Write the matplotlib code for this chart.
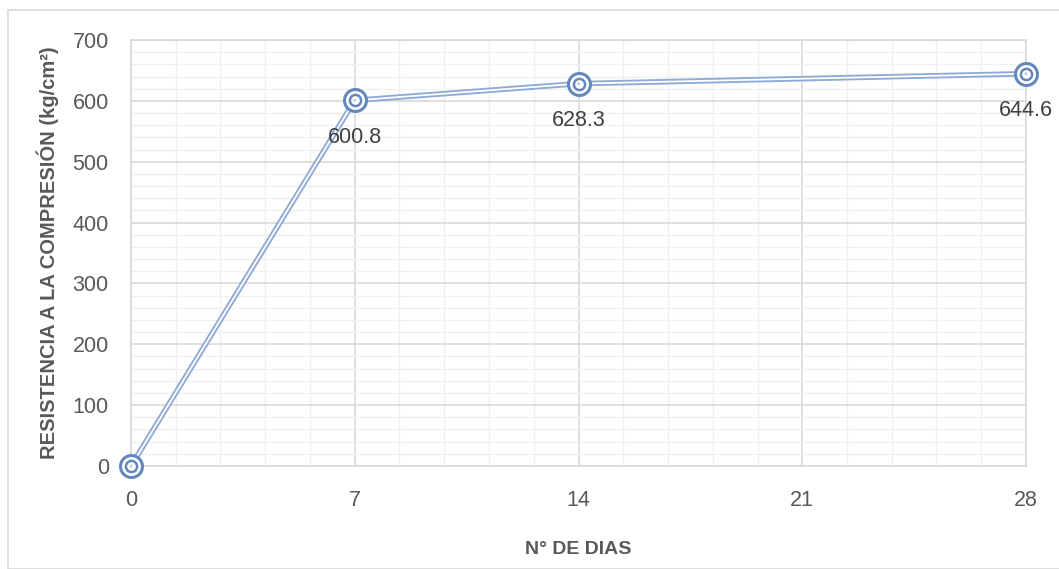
import matplotlib
matplotlib.use("Agg")
import matplotlib.pyplot as plt
from matplotlib.patches import Rectangle
from matplotlib.ticker import MultipleLocator
from matplotlib import font_manager

dias = [0, 7, 14, 28]
resistencia = [0, 600.8, 628.3, 644.6]
etiquetas = ["", "600.8", "628.3", "644.6"]
x_ticks = [0, 7, 14, 21, 28]
y_ticks = [0, 100, 200, 300, 400, 500, 600, 700]

names = {f.name for f in font_manager.fontManager.ttflist}
narrow = "Liberation Sans Narrow" if "Liberation Sans Narrow" in names else "Liberation Sans"

gray_txt = "#595959"
line_col = "#8eaad6"
mark_col = "#6488bb"

fig = plt.figure(figsize=(10.59, 5.69), dpi=100)
fig.patches.append(Rectangle((8 / 1059, 0), 1.2, 1 - 10 / 569, transform=fig.transFigure,
                             fill=False, edgecolor="#d9d9d9", linewidth=1.2))

ax = fig.add_axes([131 / 1059, 1 - 466 / 569, (1026 - 131) / 1059, (466 - 40) / 569])
ax.set_xlim(0, 28)
ax.set_ylim(0, 700)
ax.set_xticks(x_ticks)
ax.set_yticks(y_ticks)
ax.xaxis.set_minor_locator(MultipleLocator(1.4))
ax.yaxis.set_minor_locator(MultipleLocator(20))
ax.grid(which="major", color="#d9d9d9", linewidth=1.2, zorder=0)
ax.grid(which="minor", color="#f0f0f0", linewidth=1.0, zorder=0)
ax.set_axisbelow(True)
for s in ax.spines.values():
    s.set_color("#d9d9d9")
    s.set_linewidth(1.2)
ax.tick_params(which="both", length=0)
ax.tick_params(axis="x", pad=17, labelsize=15.5, colors=gray_txt)
ax.tick_params(axis="y", pad=16, labelsize=15.5, colors=gray_txt)
for lab in ax.get_xticklabels() + ax.get_yticklabels():
    lab.set_fontfamily(narrow)

# compound (double) line: wide blue stroke with a thin white core
ax.plot(dias, resistencia, color=line_col, linewidth=4.0, zorder=3, solid_capstyle="butt")
ax.plot(dias, resistencia, color="white", linewidth=1.3, zorder=4, solid_capstyle="butt")
# double-ring markers
ax.scatter(dias, resistencia, s=250, facecolor="white", edgecolor=mark_col, linewidth=2.2, zorder=5, clip_on=False)
ax.scatter(dias, resistencia, s=65, facecolor="white", edgecolor=mark_col, linewidth=1.8, zorder=6, clip_on=False)
ax.scatter(dias, resistencia, s=5, facecolor="#c5d3e8", edgecolor="none", zorder=7, clip_on=False)

for x, y, t in zip(dias, resistencia, etiquetas):
    if t:
        ax.annotate(t, (x, y), xytext=(0, -19), textcoords="offset points",
                    ha="center", va="top", fontsize=15.5, color="#404040", family=narrow, zorder=8)

ax.set_xlabel("N° DE DIAS", fontsize=14, fontweight="bold", color=gray_txt, labelpad=22)
ax.set_ylabel("RESISTENCIA A LA COMPRESIÓN (kg/cm²)", fontsize=14.5, fontweight="bold",
              color=gray_txt, labelpad=10)
ax.xaxis.label.set_fontfamily(narrow)
ax.yaxis.label.set_fontfamily(narrow)

fig.savefig("out.png", dpi=100)
